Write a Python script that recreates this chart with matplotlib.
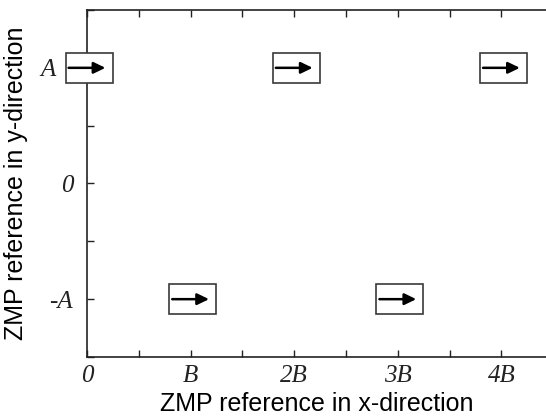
import matplotlib
matplotlib.use("Agg")
import matplotlib.pyplot as plt
from matplotlib.patches import Rectangle
from matplotlib.transforms import ScaledTranslation

# Footstep (ZMP reference) positions, in units of B and A
step_x = [0, 1, 2, 3, 4]
step_y = [1, -1, 1, -1, 1]

x_ticks = [0, 0.5, 1, 1.5, 2, 2.5, 3, 3.5, 4]
x_tick_labels = ["0", "", "B", "", "2B", "", "3B", "", "4B"]
y_ticks = [-1.5, -1, -0.5, 0, 0.5, 1, 1.5]
y_tick_labels = ["", "-A", "", "0", "", "A", ""]

box_w = 0.455
box_h = 0.26

fig = plt.figure(figsize=(5.46, 4.19), dpi=100)
ax = fig.add_axes([87 / 546, 62 / 419, 1 - 87 / 546, 347 / 419])

for x, y in zip(step_x, step_y):
    ax.add_patch(Rectangle((x - box_w / 2 + 0.02, y - box_h / 2), box_w, box_h,
                           facecolor="white", edgecolor="#3a3a3a", lw=1.2,
                           zorder=3, clip_on=False))
    ax.annotate("", xy=(x + box_w / 2 - 0.05, y), xytext=(x - box_w / 2 + 0.05, y),
                arrowprops=dict(arrowstyle="-|>,head_length=0.7,head_width=0.34",
                                color="black", lw=1.8, shrinkA=0, shrinkB=0),
                zorder=4, annotation_clip=False)

ax.set_xlim(0, 4.43)
ax.set_ylim(-1.5, 1.5)
ax.spines["right"].set_visible(False)
for s in ["left", "top", "bottom"]:
    ax.spines[s].set_linewidth(1.2)
    ax.spines[s].set_color("#222222")

ax.set_xticks(x_ticks)
ax.set_xticklabels(x_tick_labels, family="Liberation Serif", style="italic", fontsize=18)
ax.set_yticks(y_ticks)
ax.set_yticklabels(y_tick_labels, family="Liberation Serif", style="italic", fontsize=18)
ax.tick_params(direction="in", length=5, width=1, top=True, right=False,
               pad=6, colors="#222222")
ax.tick_params(axis="y", pad=10)

# the "A" label sits left of the first footstep box
for lbl in ax.get_yticklabels():
    if lbl.get_text() == "A":
        lbl.set_transform(lbl.get_transform() + ScaledTranslation(-0.17, 0, fig.dpi_scale_trans))

ax.set_xlabel("ZMP reference in x-direction", family="Liberation Sans",
              fontsize=18, labelpad=3)
ax.set_ylabel("ZMP reference in y-direction", family="Liberation Sans",
              fontsize=18, labelpad=9)

fig.savefig("out.png", dpi=100)
